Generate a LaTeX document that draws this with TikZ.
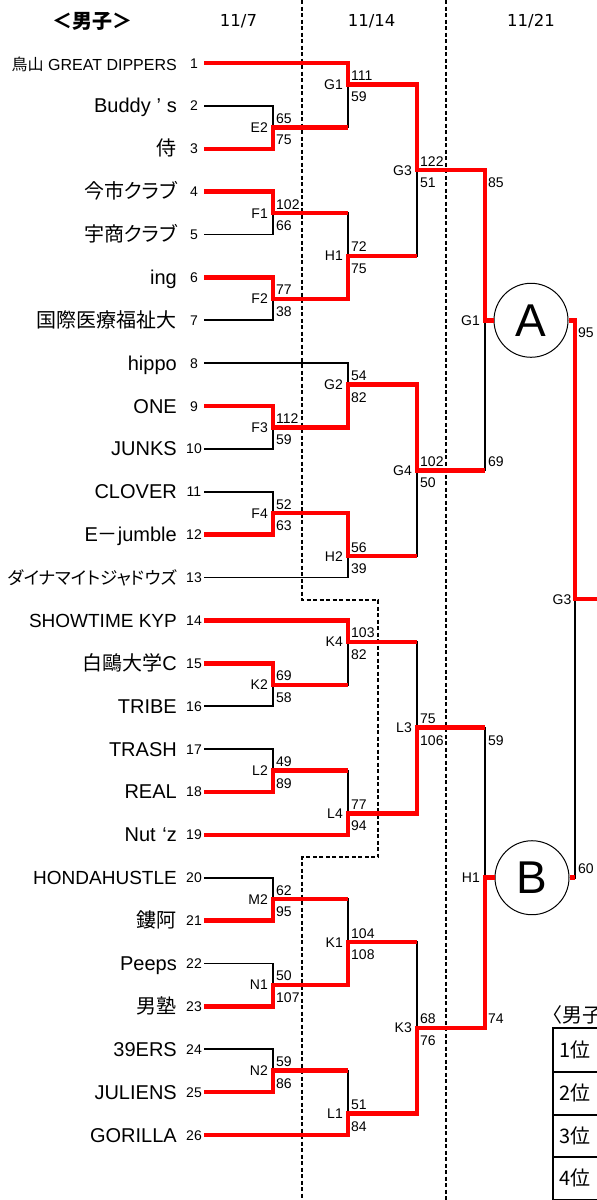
\documentclass[tikz,border=0pt]{standalone}
\usepackage{fontspec}
\setmainfont{Liberation Sans}
\newfontfamily\jp{Noto Sans CJK JP}
\newfontfamily\jpp{Noto Sans CJK JP}[RawFeature=+palt]
\newfontfamily\dvs{DejaVu Sans}
\newcommand\fs[1]{\fontsize{#1pt}{#1pt}\selectfont}
\begin{document}
\begin{tikzpicture}[x=1pt,y=1pt,
  blk/.style={line width=1.6pt,line join=miter},
  win/.style={line width=4.5pt,color=red,line join=miter},
  dsh/.style={line width=1.5pt,dash pattern=on 4pt off 2.5pt},
  tname/.style={anchor=base east,inner sep=0pt,font=\fs{20},yshift=-7pt},
  tnum/.style={anchor=base,inner sep=0pt,font=\fs{14},yshift=-5pt},
  mlab/.style={anchor=base east,inner sep=0pt,font=\fs{14},xshift=-5pt,yshift=-5pt},
  sct/.style={anchor=base west,inner sep=0pt,font=\fs{14},xshift=3pt,yshift=4pt},
  scb/.style={anchor=base west,inner sep=0pt,font=\fs{14},xshift=3pt,yshift=-17.5pt},
  ring/.style={circle,draw,line width=1pt,minimum size=74pt,inner sep=0pt,font=\fs{46}},
  hd/.style={inner sep=0pt},
  cell/.style={anchor=west,inner sep=0pt,font=\jpp\fs{20}},
  tbl/.style={line width=2pt}]
\useasboundingbox (0,0) rectangle (597,-1200);
\clip (0,0) rectangle (597,-1200);
% ---------- pixel layer ----------
\begin{scope}[y=-1pt]
  \draw[dsh] (302,0) -- (302,600) -- (378,600) -- (378,857) -- (302,857) -- (302,1200);
  \draw[dsh] (446,0) -- (446,1200);
  \node[hd,font=\jp\bfseries\fs{20}] (hdr) at (92,21) {＜男子＞};
  \node[hd,font=\dvs\fs{16.5}] (d1) at (238.5,21) {11/7};
  \node[hd,font=\dvs\fs{16.5}] (d2) at (371.7,21) {11/14};
  \node[hd,font=\dvs\fs{16.5}] (d3) at (531,21) {11/21};
  \node[cell] (tt) at (552,1015) {〈男子};
  \draw[tbl] (600,1028) -- (553,1028) -- (553,1202);
  \foreach \yy in {1071.5,1114.5,1157,1199.5} \draw[tbl] (553,\yy) -- (600,\yy);
  \node[cell] (p1) at (559,1050) {1位};
  \node[cell] (p2) at (559,1093) {2位};
  \node[cell] (p3) at (559,1136) {3位};
  \node[cell] (p4) at (559,1178) {4位};
\end{scope}
% ---------- bracket layer (rows) ----------
\begin{scope}[y=-21.44pt,yshift=-63pt]
  \foreach \i in {1,...,26}{
    \node[tnum] (k\i) at (194,{2*(\i-1)}) {\i};
    \coordinate (s\i) at (204,{2*(\i-1)});
  }
  \node[tname,font=\fs{16}] (n1) at (177,0) {{\jp 鳥山} GREAT DIPPERS};
  \node[tname] (n2) at (177,2) {Buddy\makebox[16pt][c]{’}s};
  \node[tname] (n3) at (177,4) {\jpp 侍};
  \node[tname] (n4) at (177,6) {\jpp 今市クラブ};
  \node[tname] (n5) at (177,8) {\jpp 宇商クラブ};
  \node[tname] (n6) at (177,10) {ing};
  \node[tname] (n7) at (177,12) {\jpp 国際医療福祉大};
  \node[tname] (n8) at (177,14) {hippo};
  \node[tname] (n9) at (177,16) {ONE};
  \node[tname] (n10) at (177,18) {JUNKS};
  \node[tname] (n11) at (177,20) {CLOVER};
  \node[tname] (n12) at (177,22) {E{\jp －}jumble};
  \node[tname,font=\fs{17.5}] (n13) at (177,24) {\jpp ダイナマイトジャドウズ};
  \node[tname,font=\fs{19}] (n14) at (177,26) {SHOWTIME KYP};
  \node[tname] (n15) at (177,28) {{\jpp 白鷗大学}C};
  \node[tname] (n16) at (177,30) {TRIBE};
  \node[tname] (n17) at (177,32) {TRASH};
  \node[tname] (n18) at (177,34) {REAL};
  \node[tname] (n19) at (177,36) {Nut\makebox[11pt][r]{‘}z};
  \node[tname,font=\fs{19}] (n20) at (177,38) {HONDAHUSTLE};
  \node[tname] (n21) at (177,40) {\jpp 鏤阿};
  \node[tname] (n22) at (177,42) {Peeps};
  \node[tname] (n23) at (177,44) {\jpp 男塾};
  \node[tname] (n24) at (177,46) {39ERS};
  \node[tname] (n25) at (177,48) {JULIENS};
  \node[tname] (n26) at (177,50) {GORILLA};
  % match points
  \coordinate (E2) at (273,3);  \coordinate (F1) at (273,7);
  \coordinate (F2) at (273,11); \coordinate (F3) at (273,17);
  \coordinate (F4) at (273,21); \coordinate (K2) at (273,29);
  \coordinate (L2) at (273,33); \coordinate (M2) at (273,39);
  \coordinate (N1) at (273,43); \coordinate (N2) at (273,47);
  \coordinate (G1b) at (348,1); \coordinate (H1b) at (348,9);
  \coordinate (G2) at (348,15); \coordinate (H2) at (348,23);
  \coordinate (K4) at (348,27); \coordinate (L4) at (348,35);
  \coordinate (K1) at (348,41); \coordinate (L1) at (348,49);
  \coordinate (G3c) at (417,5); \coordinate (G4) at (417,19);
  \coordinate (L3) at (417,31); \coordinate (K3) at (417,45);
  \coordinate (G1s) at (485,12); \coordinate (H1s) at (485,38);
  \coordinate (G3f) at (575,25); \coordinate (fin) at (600,25);
  \node[ring] (A) at (531,12) {A};
  \node[ring] (B) at (532,38) {B};
  % black brackets
  \draw[blk] (s2) -| (E2) |- (s3);
  \draw[blk] (s4) -| (F1) |- (s5);
  \draw[blk] (s6) -| (F2) |- (s7);
  \draw[blk] (s9) -| (F3) |- (s10);
  \draw[blk] (s11) -| (F4) |- (s12);
  \draw[blk] (s15) -| (K2) |- (s16);
  \draw[blk] (s17) -| (L2) |- (s18);
  \draw[blk] (s20) -| (M2) |- (s21);
  \draw[blk] (s22) -| (N1) |- (s23);
  \draw[blk] (s24) -| (N2) |- (s25);
  \draw[blk] (s1) -| (G1b) |- (E2);
  \draw[blk] (F1) -| (H1b) |- (F2);
  \draw[blk] (s8) -| (G2) |- (F3);
  \draw[blk] (F4) -| (H2) |- (s13);
  \draw[blk] (s14) -| (K4) |- (K2);
  \draw[blk] (L2) -| (L4) |- (s19);
  \draw[blk] (M2) -| (K1) |- (N1);
  \draw[blk] (N2) -| (L1) |- (s26);
  \draw[blk] (G1b) -| (G3c) |- (H1b);
  \draw[blk] (G2) -| (G4) |- (H2);
  \draw[blk] (K4) -| (L3) |- (L4);
  \draw[blk] (K1) -| (K3) |- (L1);
  \draw[blk] (G3c) -| (G1s) |- (G4);
  \draw[blk] (L3) -| (H1s) |- (K3);
  \draw[blk] (A) -| (G3f) |- (B);
  % red winner paths
  \draw[win] (s1) -| (G1b) -| (G3c) -| (G1s) -- (A);
  \draw[win] (A) -| (G3f) -- (fin);
  \draw[win] (s3) -| (E2) -- (E2 -| G1b);
  \draw[win] (s4) -| (F1) -- (F1 -| H1b);
  \draw[win] (s6) -| (F2) -| (H1b) -- (H1b -| G3c);
  \draw[win] (s9) -| (F3) -| (G2) -| (G4) -- (G4 -| G1s);
  \draw[win] (s12) -| (F4) -| (H2) -- (H2 -| G4);
  \draw[win] (s14) -| (K4) -- (K4 -| L3);
  \draw[win] (s15) -| (K2) -- (K2 -| K4);
  \draw[win] (s18) -| (L2) -- (L2 -| L4);
  \draw[win] (s19) -| (L4) -| (L3) -- (L3 -| H1s);
  \draw[win] (s21) -| (M2) -- (M2 -| K1);
  \draw[win] (s23) -| (N1) -| (K1) -- (K1 -| K3);
  \draw[win] (s25) -| (N2) -- (N2 -| L1);
  \draw[win] (s26) -| (L1) -| (K3) -| (H1s) -- (B);
  \draw[win] (B) -- (B -| G3f);
  % match labels and scores
  \node[mlab] (lE2) at (E2) {E2}; \node[sct] (E2t) at (E2) {65};  \node[scb] (E2u) at (E2) {75};
  \node[mlab] (lF1) at (F1) {F1}; \node[sct] (F1t) at (F1) {102}; \node[scb] (F1u) at (F1) {66};
  \node[mlab] (lF2) at (F2) {F2}; \node[sct] (F2t) at (F2) {77};  \node[scb] (F2u) at (F2) {38};
  \node[mlab] (lF3) at (F3) {F3}; \node[sct] (F3t) at (F3) {112}; \node[scb] (F3u) at (F3) {59};
  \node[mlab] (lF4) at (F4) {F4}; \node[sct] (F4t) at (F4) {52};  \node[scb] (F4u) at (F4) {63};
  \node[mlab] (lK2) at (K2) {K2}; \node[sct] (K2t) at (K2) {69};  \node[scb] (K2u) at (K2) {58};
  \node[mlab] (lL2) at (L2) {L2}; \node[sct] (L2t) at (L2) {49};  \node[scb] (L2u) at (L2) {89};
  \node[mlab] (lM2) at (M2) {M2}; \node[sct] (M2t) at (M2) {62};  \node[scb] (M2u) at (M2) {95};
  \node[mlab] (lN1) at (N1) {N1}; \node[sct] (N1t) at (N1) {50};  \node[scb] (N1u) at (N1) {107};
  \node[mlab] (lN2) at (N2) {N2}; \node[sct] (N2t) at (N2) {59};  \node[scb] (N2u) at (N2) {86};
  \node[mlab] (lG1b) at (G1b) {G1}; \node[sct] (G1bt) at (G1b) {111}; \node[scb] (G1bu) at (G1b) {59};
  \node[mlab] (lH1b) at (H1b) {H1}; \node[sct] (H1bt) at (H1b) {72};  \node[scb] (H1bu) at (H1b) {75};
  \node[mlab] (lG2) at (G2) {G2}; \node[sct] (G2t) at (G2) {54};  \node[scb] (G2u) at (G2) {82};
  \node[mlab] (lH2) at (H2) {H2}; \node[sct] (H2t) at (H2) {56};  \node[scb] (H2u) at (H2) {39};
  \node[mlab] (lK4) at (K4) {K4}; \node[sct] (K4t) at (K4) {103}; \node[scb] (K4u) at (K4) {82};
  \node[mlab] (lL4) at (L4) {L4}; \node[sct] (L4t) at (L4) {77};  \node[scb] (L4u) at (L4) {94};
  \node[mlab] (lK1) at (K1) {K1}; \node[sct] (K1t) at (K1) {104}; \node[scb] (K1u) at (K1) {108};
  \node[mlab] (lL1) at (L1) {L1}; \node[sct] (L1t) at (L1) {51};  \node[scb] (L1u) at (L1) {84};
  \node[mlab] (lG3c) at (G3c) {G3}; \node[sct] (G3ct) at (G3c) {122}; \node[scb] (G3cu) at (G3c) {51};
  \node[mlab] (lG4) at (G4) {G4}; \node[sct] (G4t) at (G4) {102}; \node[scb] (G4u) at (G4) {50};
  \node[mlab] (lL3) at (L3) {L3}; \node[sct] (L3t) at (L3) {75};  \node[scb] (L3u) at (L3) {106};
  \node[mlab] (lK3) at (K3) {K3}; \node[sct] (K3t) at (K3) {68};  \node[scb] (K3u) at (K3) {76};
  \node[mlab] (lG1s) at (G1s) {G1};
  \node[scb] (G1st) at (G3c -| G1s) {85}; \node[sct] (G1su) at (G4 -| G1s) {69};
  \node[mlab] (lH1s) at (H1s) {H1};
  \node[scb] (H1st) at (L3 -| H1s) {59}; \node[sct] (H1su) at (K3 -| H1s) {74};
  \node[mlab,xshift=1.5pt] (lG3f) at (G3f) {G3};
  \node[scb] (G3ft) at (A -| G3f) {95}; \node[sct] (G3fu) at (B -| G3f) {60};
\end{scope}
\end{tikzpicture}
\end{document}
